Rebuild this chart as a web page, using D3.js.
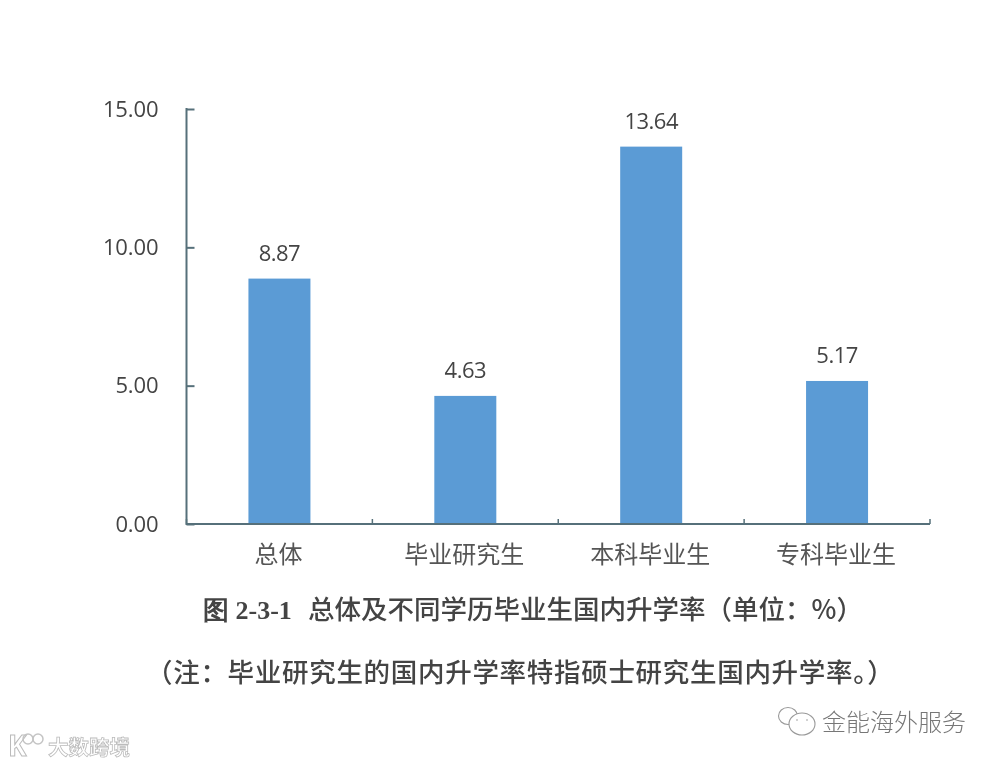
<!DOCTYPE html>
<html><head><meta charset="utf-8">
<script src="https://cdn.jsdelivr.net/npm/d3@7/dist/d3.min.js"></script>
<style>html,body{margin:0;padding:0;background:#fff}svg{display:block;filter:blur(.6px)}</style>
</head><body><svg id="c" width="998" height="765"></svg>
<script>
const categories = ["总体","毕业研究生","本科毕业生","专科毕业生"];
const values = [8.87,4.63,13.64,5.17];
const valueLabels = ["8.87","4.63","13.64","5.17"];
const yTicks = [0,5,10,15];
const caption = "总体及不同学历毕业生国内升学率（单位：%）";
const captionPrefix = "图 2-3-1";
const note = "（注：毕业研究生的国内升学率特指硕士研究生国内升学率。）";
const wmLeft = "大数跨境";
const wmRight = "金能海外服务";

const svg = d3.select("#c");
const cjk = "'Noto Sans CJK SC',sans-serif";
const num = "'Open Sans',sans-serif";
const axisCol = "#56707a", txt = "#444";
const x = d3.scaleBand().domain(categories).range([186.5,930]);
const y = d3.scaleLinear().domain([0,15]).range([524,109]);
const barW = 62;

svg.append("g").selectAll("rect").data(values).join("rect")
  .attr("x",(d,i)=>x(categories[i])+x.bandwidth()/2-barW/2)
  .attr("width",barW)
  .attr("y",d=>y(d)).attr("height",d=>y(0)-y(d))
  .attr("fill","#5b9bd5");

const gy = svg.append("g").attr("transform","translate(186.5,0)")
  .call(d3.axisLeft(y).tickValues(yTicks).tickSize(-8).tickFormat(()=>""));
gy.selectAll("line").attr("stroke",axisCol).attr("stroke-width",2);
gy.select(".domain").remove();
svg.append("line").attr("x1",186.5).attr("x2",186.5).attr("y1",y(15)-1).attr("y2",y(0)+1).attr("stroke",axisCol).attr("stroke-width",2);

svg.append("g").selectAll("text").data(yTicks).join("text")
  .attr("x",158.5).attr("y",d=>y(d)).attr("dy",".35em").attr("text-anchor","end")
  .attr("font-family",num).attr("font-size",22).attr("letter-spacing","-0.1").attr("fill",txt)
  .text(d=>d3.format(".2f")(d));

const xTickPos = d3.range(categories.length+1).map(i=>186.5+i*x.bandwidth());
svg.append("line").attr("x1",186).attr("x2",930).attr("y1",y(0)).attr("y2",y(0)).attr("stroke",axisCol).attr("stroke-width",2);
svg.append("g").selectAll("line").data(xTickPos).join("line")
  .attr("x1",d=>d).attr("x2",d=>d).attr("y1",y(0)-5).attr("y2",y(0))
  .attr("stroke",axisCol).attr("stroke-width",1.5);

svg.append("g").selectAll("text").data(values).join("text")
  .attr("x",(d,i)=>x(categories[i])+x.bandwidth()/2)
  .attr("y",d=>y(d)-18).attr("text-anchor","middle")
  .attr("font-family",num).attr("font-size",22).attr("letter-spacing","-0.5").attr("fill",txt)
  .text((d,i)=>valueLabels[i]);

svg.append("g").selectAll("text").data(categories).join("text")
  .attr("x",d=>x(d)+x.bandwidth()/2-1).attr("y",563).attr("text-anchor","middle")
  .attr("font-family",cjk).attr("font-size",24).attr("fill","#555")
  .text(d=>d);

const capG = svg.append("text").attr("y",619).attr("fill","#444");
capG.append("tspan").attr("x",203).attr("font-family","'Liberation Serif',serif").attr("font-size",26).attr("font-weight","bold").text(captionPrefix);
capG.append("tspan").attr("x",308).attr("font-family",cjk).attr("font-size",26.5).attr("font-weight","500").text(caption);

svg.append("text").attr("x",146).attr("y",682).attr("font-family",cjk).attr("font-size",26.5).attr("letter-spacing",".7").attr("font-weight","500").attr("fill","#444").text(note);

// watermarks
const wl = svg.append("g");
wl.append("text").attr("x",8).attr("y",756).attr("font-family",num).attr("font-size",28).attr("font-weight","bold").attr("fill","#fff").attr("stroke","#bbb").attr("stroke-width",1).text("K");
wl.selectAll("circle").data([28,38]).join("circle").attr("cx",d=>d).attr("cy",739).attr("r",5).attr("fill","none").attr("stroke","#c4c4c4").attr("stroke-width",1.5);
wl.append("text").attr("x",48).attr("y",755).attr("font-family",cjk).attr("font-size",20.5).attr("font-weight","bold").attr("fill","#fff").attr("stroke","#bbb").attr("stroke-width",.8).text(wmLeft);

const wr = svg.append("g").attr("fill","#fff").attr("stroke","#999").attr("stroke-width",1.1);
wr.append("ellipse").attr("cx",788).attr("cy",716).attr("rx",9.5).attr("ry",8.5);
wr.append("ellipse").attr("cx",802).attr("cy",724).attr("rx",13).attr("ry",11);
wr.selectAll("circle").data([797,807]).join("circle").attr("cx",d=>d).attr("cy",720).attr("r",.8).attr("fill","#999").attr("stroke","none");
svg.append("text").attr("x",822).attr("y",731).attr("font-family",cjk).attr("font-size",24).attr("font-weight","300").attr("fill","#777").text(wmRight);
</script></body></html>
